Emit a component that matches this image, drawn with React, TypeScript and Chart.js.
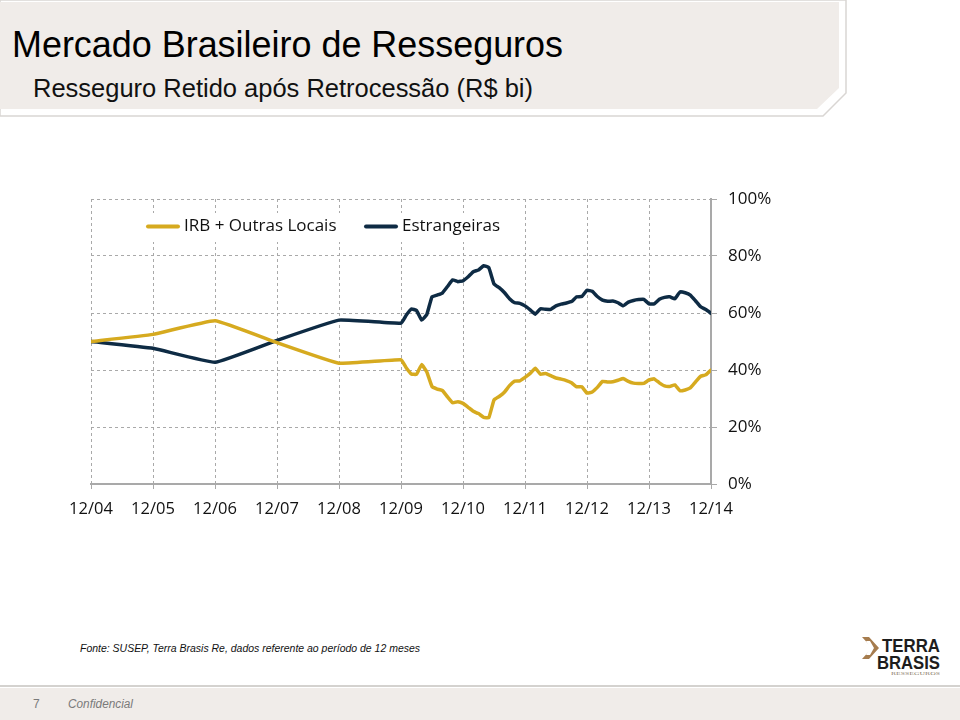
import React, { useEffect, useRef } from "react";
import { Chart, registerables } from "chart.js";

Chart.register(...registerables);

// ---- data ----
const xTickLabels = ["12/04", "12/05", "12/06", "12/07", "12/08", "12/09", "12/10", "12/11", "12/12", "12/13", "12/14"];
const yTickValues = [0, 20, 40, 60, 80, 100];
const seriesNames = ["IRB + Outras Locais", "Estrangeiras"];

// annual observations 12/04 .. 12/08 (share, %)
const annualIRB = [50.0, 52.5, 57.3, 49.6, 42.4];
const annualForeign = [50.0, 47.6, 42.7, 50.4, 57.5];

// monthly observations 12/09 .. 12/14 (share, %)
const monthlyIRB = [
  43.6, 40.8, 38.6, 38.5, 41.9, 39.3, 34.2, 33.3, 32.8, 30.6,
  28.5, 28.9, 28.3, 26.9, 25.5, 24.7, 23.4, 23.3, 29.5, 30.7,
  32.2, 34.5, 36.1, 36.2, 37.4, 38.8, 40.6, 38.5, 38.8, 38.0,
  37.2, 36.8, 36.3, 35.5, 34.1, 34.1, 31.9, 32.3, 33.9, 36.0,
  35.8, 35.9, 36.4, 37.0, 36.0, 35.4, 35.3, 35.3, 36.5, 36.9,
  35.5, 34.4, 34.2, 34.8, 32.7, 33.0, 33.7, 35.8, 37.8, 38.3,
  40.0,
];
const monthlyForeign = [
  56.4, 59.2, 61.4, 60.9, 57.5, 59.5, 65.7, 66.3, 67.0, 69.3,
  71.6, 71.0, 71.3, 72.7, 74.5, 75.1, 76.6, 75.9, 70.2, 68.9,
  67.2, 65.0, 63.6, 63.4, 62.5, 61.1, 59.6, 61.5, 61.3, 61.3,
  62.5, 63.1, 63.5, 64.0, 65.7, 65.8, 68.0, 67.6, 65.8, 64.5,
  64.1, 64.2, 63.6, 62.5, 63.8, 64.4, 64.7, 64.8, 63.2, 63.2,
  64.8, 65.5, 65.7, 65.0, 67.4, 67.1, 66.3, 64.3, 62.2, 61.2,
  59.9,
];

const COLORS = ["#D6AA1F", "#0E2B44"];
const GRID = "#a9a9a9";
const FONT = "'Open Sans', sans-serif";

// months since 12/04
function toPoints(annual: number[], monthly: number[]) {
  return [
    ...annual.map((v, i) => ({ x: i * 12, y: v })),
    ...monthly.map((v, j) => ({ x: 60 + j, y: v })),
  ];
}

const legendPlugin = {
  id: "boxLegend",
  beforeDatasetsDraw(chart: any) {
    const { ctx, chartArea } = chart;
    const L = chartArea.left;
    const T = chartArea.top;
    ctx.save();
    ctx.fillStyle = "#ffffff";
    ctx.fillRect(L + 49, T + 14, 366, 29);
    const items = [
      { x: L + 57, name: seriesNames[0], color: COLORS[0] },
      { x: L + 275, name: seriesNames[1], color: COLORS[1] },
    ];
    const y = T + 27.5;
    ctx.font = `17px ${FONT}`;
    ctx.textBaseline = "middle";
    ctx.textAlign = "left";
    items.forEach((it) => {
      ctx.strokeStyle = it.color;
      ctx.lineWidth = 4;
      ctx.lineCap = "round";
      ctx.beginPath();
      ctx.moveTo(it.x, y);
      ctx.lineTo(it.x + 30, y);
      ctx.stroke();
      ctx.fillStyle = "#111111";
      ctx.fillText(it.name, it.x + 36, y);
    });
    ctx.restore();
  },
};

function ShareChart() {
  const ref = useRef<HTMLCanvasElement | null>(null);
  useEffect(() => {
    if (!ref.current) return;
    const chart = new Chart(ref.current, {
      type: "line",
      data: {
        datasets: [
          {
            label: seriesNames[0],
            data: toPoints(annualIRB, monthlyIRB),
            borderColor: COLORS[0],
            backgroundColor: COLORS[0],
            borderWidth: 3.5,
            pointRadius: 0,
            tension: 0.1,
            borderJoinStyle: "round",
            borderCapStyle: "round",
            fill: false,
          },
          {
            label: seriesNames[1],
            data: toPoints(annualForeign, monthlyForeign),
            borderColor: COLORS[1],
            backgroundColor: COLORS[1],
            borderWidth: 3.5,
            pointRadius: 0,
            tension: 0.1,
            borderJoinStyle: "round",
            borderCapStyle: "round",
            fill: false,
          },
        ],
      },
      options: {
        animation: false,
        responsive: false,
        devicePixelRatio: 1,
        layout: { padding: { left: 91, top: 49, right: 0, bottom: 0 } },
        plugins: { legend: { display: false }, tooltip: { enabled: false } },
        scales: {
          x: {
            type: "linear",
            position: "bottom",
            min: 0,
            max: 120,
            afterBuildTicks: (s: any) => {
              s.ticks = xTickLabels.map((_, i) => ({ value: i * 12 }));
            },
            afterFit: (s: any) => {
              s.height = 66;
            },
            ticks: {
              autoSkip: false,
              maxRotation: 0,
              padding: 10,
              color: "#111111",
              font: { family: FONT, size: 16.5 },
              callback: (v: any) => xTickLabels[Math.round(Number(v) / 12)],
            },
            grid: { color: GRID, lineWidth: 1, drawTicks: true, tickLength: 5, tickColor: GRID },
            border: { display: true, color: GRID, width: 2, dash: [3, 3] },
          },
          y: {
            type: "linear",
            position: "right",
            min: 0,
            max: 100,
            afterBuildTicks: (s: any) => {
              s.ticks = yTickValues.map((v) => ({ value: v }));
            },
            afterFit: (s: any) => {
              s.width = 89;
            },
            ticks: {
              padding: 11,
              color: "#111111",
              font: { family: FONT, size: 17 },
              callback: (v: any) => `${v}%`,
            },
            grid: { color: GRID, lineWidth: 1, drawTicks: true, tickLength: 6, tickColor: GRID },
            border: { display: true, color: GRID, width: 2, dash: [3, 3] },
          },
        },
      },
      plugins: [legendPlugin],
    } as any);
    return () => chart.destroy();
  }, []);
  return (
    <canvas
      ref={ref}
      width={800}
      height={400}
      style={{ position: "absolute", left: 0, top: 150, width: 800, height: 400 }}
    />
  );
}

export default function App() {
  return (
    <div style={{ position: "absolute", left: 0, top: 0, width: 960, height: 720, background: "#fff", overflow: "hidden" }}>
      <svg width={960} height={720} style={{ position: "absolute", left: 0, top: 0 }}>
        {/* header */}
        <polygon points="0,0 846,0 846,93 823,116 0,116" fill="#ffffff" stroke="#d9d6d3" strokeWidth={1.5} />
        <polygon points="0,2 839,2 839,88 817,109 0,109" fill="#F0ECE9" />
        <text x={12} y={57} fontFamily="'Liberation Sans', Arial, sans-serif" fontSize={37} fill="#000" textLength={551} lengthAdjust="spacingAndGlyphs">
          Mercado Brasileiro de Resseguros
        </text>
        <text x={33} y={97} fontFamily="'Liberation Sans', Arial, sans-serif" fontSize={26} fill="#111" textLength={500} lengthAdjust="spacingAndGlyphs">
          Resseguro Retido após Retrocessão (R$ bi)
        </text>
        {/* source */}
        <text x={80} y={652} fontFamily="'Liberation Sans', Arial, sans-serif" fontSize={11} fontStyle="italic" fill="#111" textLength={340} lengthAdjust="spacingAndGlyphs">
          Fonte: SUSEP, Terra Brasis Re, dados referente ao período de 12 meses
        </text>
        {/* logo */}
        <polygon points="862,637 869,637 879,648 869,659 862,659 872,648" fill="#A67C4E" />
        <polygon points="866,641 870,641 874,648 870,655 866,655 870,648" fill="#ffffff" />
        <text x={882} y={652} fontFamily="'Liberation Sans', Arial, sans-serif" fontWeight="bold" fontSize={19} fill="#1d1d1d" textLength={58} lengthAdjust="spacingAndGlyphs">
          TERRA
        </text>
        <text x={877} y={669} fontFamily="'Liberation Sans', Arial, sans-serif" fontWeight="bold" fontSize={19} fill="#1d1d1d" textLength={63} lengthAdjust="spacingAndGlyphs">
          BRASIS
        </text>
        <text x={891} y={675} fontFamily="'Liberation Serif', serif" fontSize={5} fill="#8a7a66" textLength={49} lengthAdjust="spacingAndGlyphs">
          RESSEGUROS
        </text>
        {/* footer */}
        <line x1={0} y1={686} x2={960} y2={686} stroke="#d4d2cf" strokeWidth={2} />
        <rect x={0} y={688} width={960} height={32} fill="#F0ECE9" />
        <text x={33} y={708} fontFamily="'Liberation Sans', Arial, sans-serif" fontSize={12} fill="#7a7a7a">
          7
        </text>
        <text x={68} y={708} fontFamily="'Liberation Sans', Arial, sans-serif" fontSize={12} fontStyle="italic" fill="#7a7a7a" textLength={65} lengthAdjust="spacingAndGlyphs">
          Confidencial
        </text>
      </svg>
      <ShareChart />
    </div>
  );
}
